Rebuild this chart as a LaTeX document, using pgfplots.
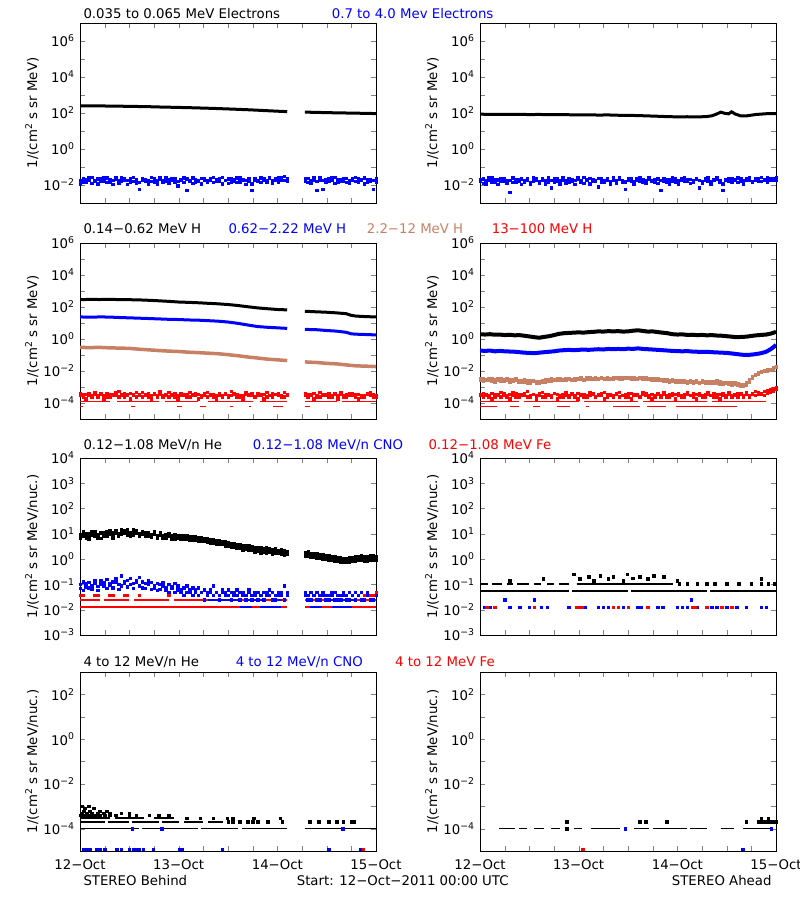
\documentclass[border=0pt]{standalone}
\usepackage{fontspec}
\setmainfont{DejaVu Sans}
\usepackage{pgfplots}
\usepackage{pgfplotstable}
\pgfplotsset{compat=1.18}
\definecolor{cblue}{RGB}{0,0,255}
\definecolor{cred}{RGB}{255,0,0}
\definecolor{cbrown}{RGB}{200,128,100}
\newcommand{\lab}{\fontsize{13.3bp}{15bp}\selectfont}
\newcommand{\SUP}[1]{\textsuperscript{#1}}

\pgfplotsset{
 every axis/.append style={
   scale only axis, width=296bp, anchor=north west,
   xmin=0, xmax=3,
   xtick={0,1,2,3},
   minor xtick={0.25,0.5,0.75,1.25,1.5,1.75,2.25,2.5,2.75},
   tick align=inside,
   major tick length=5bp, minor tick length=5bp,
   axis line style={line width=1bp},
   tick label style={font=\lab},
   yticklabel style={xshift=-2bp},
   xticklabel style={yshift=-5bp},
   ylabel style={at={(axis description cs:-0.162,0.5)}, anchor=center, font=\lab},
   unbounded coords=jump,
 },
}

% ---------- Panel 1L : 0.7-4.0 MeV electrons, Behind ----------
\pgfplotstableread{
x a b
0.00 18e-3 12e-3
0.03 24e-3 15e-3
0.06 14e-3 21e-3
0.09 20e-3 26e-3
0.12 27e-3 13e-3
0.15 16e-3 19e-3
0.18 12e-3 23e-3
0.21 22e-3 17e-3
0.24 17e-3 28e-3
0.27 25e-3 14e-3
0.30 15e-3 20e-3
0.33 19e-3 11e-3
0.36 21e-3 25e-3
0.39 13e-3 18e-3
0.42 26e-3 16e-3
0.45 18e-3 22e-3
0.48 11e-3 19e-3
0.51 23e-3 15e-3
0.54 16e-3 27e-3
0.57 20e-3 13e-3
0.60 14e-3 6e-3
0.63 24e-3 18e-3
0.66 17e-3 21e-3
0.69 19e-3 12e-3
0.72 28e-3 16e-3
0.75 15e-3 22e-3
0.78 12e-3 19e-3
0.81 21e-3 25e-3
0.84 18e-3 14e-3
0.87 25e-3 17e-3
0.90 13e-3 20e-3
0.93 19e-3 23e-3
0.96 22e-3 15e-3
0.99 16e-3 9e-3
1.02 20e-3 18e-3
1.05 14e-3 26e-3
1.08 23e-3 5e-3
1.11 17e-3 19e-3
1.14 26e-3 13e-3
1.17 15e-3 21e-3
1.20 19e-3 16e-3
1.23 12e-3 24e-3
1.26 22e-3 18e-3
1.29 18e-3 14e-3
1.32 24e-3 20e-3
1.35 14e-3 27e-3
1.38 20e-3 16e-3
1.41 16e-3 22e-3
1.44 27e-3 12e-3
1.47 19e-3 18e-3
1.50 13e-3 23e-3
1.53 22e-3 15e-3
1.56 17e-3 20e-3
1.59 25e-3 14e-3
1.62 15e-3 26e-3
1.65 21e-3 18e-3
1.68 18e-3 11e-3
1.71 23e-3 17e-3
1.74 12e-3 5e-3
1.77 20e-3 24e-3
1.80 16e-3 19e-3
1.83 26e-3 14e-3
1.86 19e-3 22e-3
1.89 14e-3 17e-3
1.92 24e-3 28e-3
1.95 17e-3 13e-3
1.98 22e-3 20e-3
2.01 15e-3 25e-3
2.04 27e-3 18e-3
2.07 19e-3 31e-3
2.10 23e-3 16e-3
2.28 17e-3 22e-3
2.31 24e-3 14e-3
2.34 13e-3 19e-3
2.37 20e-3 26e-3
2.40 16e-3 5e-3
2.43 25e-3 18e-3
2.46 18e-3 6e-3
2.49 14e-3 21e-3
2.52 22e-3 16e-3
2.55 19e-3 25e-3
2.58 27e-3 13e-3
2.61 15e-3 20e-3
2.64 21e-3 17e-3
2.67 17e-3 24e-3
2.70 24e-3 14e-3
2.73 13e-3 19e-3
2.76 20e-3 22e-3
2.79 16e-3 27e-3
2.82 23e-3 15e-3
2.85 18e-3 20e-3
2.88 26e-3 12e-3
2.91 14e-3 21e-3
2.94 21e-3 17e-3
2.97 19e-3 6e-3
3.00 15e-3 24e-3
}\tabOneL

% ---------- Panel 1R ----------
\pgfplotstableread{
x a b
0.00 16e-3 21e-3
0.03 22e-3 13e-3
0.06 12e-3 18e-3
0.09 19e-3 25e-3
0.12 25e-3 15e-3
0.15 14e-3 20e-3
0.18 20e-3 11e-3
0.21 17e-3 24e-3
0.24 23e-3 16e-3
0.27 13e-3 19e-3
0.30 18e-3 4e-3
0.33 26e-3 14e-3
0.36 15e-3 21e-3
0.39 21e-3 17e-3
0.42 11e-3 23e-3
0.45 19e-3 15e-3
0.48 24e-3 20e-3
0.51 14e-3 12e-3
0.54 17e-3 26e-3
0.57 22e-3 18e-3
0.60 16e-3 13e-3
0.63 20e-3 24e-3
0.66 12e-3 19e-3
0.69 25e-3 15e-3
0.72 18e-3 7e-3
0.75 14e-3 22e-3
0.78 23e-3 17e-3
0.81 17e-3 12e-3
0.84 20e-3 25e-3
0.87 13e-3 18e-3
0.90 24e-3 15e-3
0.93 16e-3 21e-3
0.96 19e-3 11e-3
0.99 22e-3 27e-3
1.02 15e-3 17e-3
1.05 27e-3 13e-3
1.08 18e-3 20e-3
1.11 12e-3 24e-3
1.14 21e-3 16e-3
1.17 17e-3 19e-3
1.20 24e-3 8e-3
1.23 14e-3 22e-3
1.26 19e-3 15e-3
1.29 23e-3 18e-3
1.32 16e-3 12e-3
1.35 20e-3 25e-3
1.38 13e-3 17e-3
1.41 25e-3 21e-3
1.44 18e-3 14e-3
1.47 15e-3 6e-3
1.50 22e-3 19e-3
1.53 17e-3 24e-3
1.56 11e-3 15e-3
1.59 20e-3 22e-3
1.62 26e-3 17e-3
1.65 14e-3 20e-3
1.68 19e-3 13e-3
1.71 23e-3 26e-3
1.74 16e-3 18e-3
1.77 21e-3 14e-3
1.80 13e-3 22e-3
1.83 18e-3 5e-3
1.86 24e-3 16e-3
1.89 15e-3 20e-3
1.92 20e-3 12e-3
1.95 17e-3 25e-3
1.98 22e-3 15e-3
2.01 12e-3 19e-3
2.04 19e-3 23e-3
2.07 25e-3 16e-3
2.10 16e-3 21e-3
2.13 21e-3 13e-3
2.16 14e-3 18e-3
2.19 23e-3 24e-3
2.22 18e-3 7e-3
2.25 13e-3 15e-3
2.28 20e-3 22e-3
2.31 26e-3 17e-3
2.34 15e-3 12e-3
2.37 19e-3 20e-3
2.40 22e-3 25e-3
2.43 17e-3 14e-3
2.46 12e-3 5e-3
2.49 21e-3 19e-3
2.52 16e-3 23e-3
2.55 24e-3 15e-3
2.58 18e-3 20e-3
2.61 14e-3 26e-3
2.64 23e-3 16e-3
2.67 17e-3 12e-3
2.70 20e-3 22e-3
2.73 25e-3 18e-3
2.76 15e-3 14e-3
2.79 19e-3 24e-3
2.82 22e-3 17e-3
2.85 16e-3 27e-3
2.88 21e-3 19e-3
2.91 26e-3 15e-3
2.94 18e-3 23e-3
2.97 23e-3 20e-3
3.00 20e-3 25e-3
}\tabOneR

% ---------- Panel 2L : 13-100 MeV H (red) ----------
\pgfplotstableread{
x a b
0.00 30e-5 42e-5
0.03 24e-5 36e-5
0.06 36e-5 18e-5
0.09 42e-5 30e-5
0.12 30e-5 24e-5
0.15 48e-5 36e-5
0.18 24e-5 30e-5
0.21 36e-5 42e-5
0.24 30e-5 18e-5
0.27 42e-5 24e-5
0.30 24e-5 36e-5
0.33 36e-5 30e-5
0.36 30e-5 48e-5
0.39 54e-5 24e-5
0.42 36e-5 30e-5
0.45 24e-5 42e-5
0.48 30e-5 36e-5
0.51 42e-5 18e-5
0.54 36e-5 30e-5
0.57 24e-5 48e-5
0.60 30e-5 36e-5
0.63 48e-5 24e-5
0.66 36e-5 30e-5
0.69 24e-5 42e-5
0.72 30e-5 18e-5
0.75 42e-5 36e-5
0.78 30e-5 24e-5
0.81 36e-5 54e-5
0.84 24e-5 30e-5
0.87 30e-5 36e-5
0.90 48e-5 24e-5
0.93 36e-5 30e-5
0.96 24e-5 42e-5
0.99 30e-5 18e-5
1.02 42e-5 30e-5
1.05 30e-5 36e-5
1.08 36e-5 24e-5
1.11 24e-5 48e-5
1.14 30e-5 36e-5
1.17 42e-5 30e-5
1.20 36e-5 18e-5
1.23 24e-5 30e-5
1.26 30e-5 42e-5
1.29 48e-5 24e-5
1.32 36e-5 30e-5
1.35 24e-5 36e-5
1.38 30e-5 18e-5
1.41 42e-5 30e-5
1.44 30e-5 24e-5
1.47 36e-5 42e-5
1.50 24e-5 30e-5
1.53 30e-5 54e-5
1.56 42e-5 36e-5
1.59 36e-5 24e-5
1.62 24e-5 30e-5
1.65 30e-5 18e-5
1.68 48e-5 36e-5
1.71 36e-5 30e-5
1.74 30e-5 42e-5
1.77 24e-5 24e-5
1.80 42e-5 30e-5
1.83 30e-5 36e-5
1.86 36e-5 18e-5
1.89 24e-5 48e-5
1.92 30e-5 30e-5
1.95 42e-5 24e-5
1.98 36e-5 36e-5
2.01 30e-5 42e-5
2.04 24e-5 30e-5
2.07 48e-5 24e-5
2.10 36e-5 30e-5
2.28 30e-5 42e-5
2.31 24e-5 36e-5
2.34 36e-5 30e-5
2.37 42e-5 18e-5
2.40 30e-5 24e-5
2.43 24e-5 48e-5
2.46 36e-5 30e-5
2.49 30e-5 36e-5
2.52 42e-5 24e-5
2.55 24e-5 30e-5
2.58 36e-5 42e-5
2.61 30e-5 18e-5
2.64 48e-5 36e-5
2.67 24e-5 30e-5
2.70 36e-5 24e-5
2.73 30e-5 42e-5
2.76 42e-5 30e-5
2.79 24e-5 36e-5
2.82 36e-5 18e-5
2.85 30e-5 24e-5
2.88 24e-5 30e-5
2.91 42e-5 36e-5
2.94 30e-5 48e-5
2.97 36e-5 24e-5
3.00 24e-5 30e-5
}\tabTwoL

% ---------- Panel 2R : brown (n1 n2) and red (r1 r2) ----------
\pgfplotstableread{
x n1 n2 r1 r2
0.00 29e-4 36e-4 30e-5 36e-5
0.03 33e-4 25e-4 24e-5 42e-5
0.06 26e-4 31e-4 36e-5 30e-5
0.09 35e-4 28e-4 30e-5 24e-5
0.12 24e-4 33e-4 42e-5 18e-5
0.15 30e-4 22e-4 24e-5 36e-5
0.18 27e-4 34e-4 36e-5 30e-5
0.21 32e-4 25e-4 48e-5 24e-5
0.24 23e-4 29e-4 30e-5 42e-5
0.27 28e-4 35e-4 24e-5 30e-5
0.30 31e-4 22e-4 36e-5 18e-5
0.33 25e-4 28e-4 30e-5 48e-5
0.36 29e-4 33e-4 42e-5 24e-5
0.39 22e-4 26e-4 24e-5 36e-5
0.42 27e-4 20e-4 36e-5 30e-5
0.45 21e-4 28e-4 30e-5 42e-5
0.48 25e-4 18e-4 54e-5 24e-5
0.51 19e-4 24e-4 24e-5 30e-5
0.54 23e-4 27e-4 36e-5 36e-5
0.57 18e-4 22e-4 30e-5 18e-5
0.60 22e-4 17e-4 42e-5 30e-5
0.63 26e-4 20e-4 24e-5 48e-5
0.66 21e-4 28e-4 36e-5 24e-5
0.69 29e-4 24e-4 30e-5 36e-5
0.72 25e-4 32e-4 24e-5 30e-5
0.75 31e-4 27e-4 42e-5 42e-5
0.78 28e-4 35e-4 36e-5 18e-5
0.81 34e-4 29e-4 30e-5 24e-5
0.84 30e-4 26e-4 24e-5 36e-5
0.87 27e-4 33e-4 48e-5 30e-5
0.90 35e-4 30e-4 30e-5 24e-5
0.93 31e-4 28e-4 36e-5 42e-5
0.96 29e-4 36e-4 24e-5 30e-5
0.99 36e-4 31e-4 42e-5 18e-5
1.02 33e-4 38e-4 30e-5 36e-5
1.05 30e-4 27e-4 36e-5 24e-5
1.08 38e-4 33e-4 24e-5 30e-5
1.11 34e-4 40e-4 30e-5 48e-5
1.14 31e-4 36e-4 42e-5 36e-5
1.17 39e-4 33e-4 24e-5 24e-5
1.20 35e-4 30e-4 36e-5 30e-5
1.23 37e-4 42e-4 30e-5 42e-5
1.26 33e-4 36e-4 48e-5 18e-5
1.29 40e-4 34e-4 24e-5 36e-5
1.32 36e-4 31e-4 36e-5 30e-5
1.35 33e-4 39e-4 30e-5 24e-5
1.38 41e-4 36e-4 42e-5 36e-5
1.41 37e-4 33e-4 24e-5 48e-5
1.44 34e-4 40e-4 30e-5 30e-5
1.47 39e-4 35e-4 36e-5 24e-5
1.50 36e-4 42e-4 24e-5 42e-5
1.53 32e-4 37e-4 42e-5 18e-5
1.56 38e-4 34e-4 30e-5 36e-5
1.59 35e-4 31e-4 36e-5 30e-5
1.62 40e-4 36e-4 24e-5 24e-5
1.65 33e-4 38e-4 48e-5 36e-5
1.68 37e-4 31e-4 30e-5 42e-5
1.71 30e-4 35e-4 24e-5 30e-5
1.74 34e-4 28e-4 36e-5 18e-5
1.77 29e-4 33e-4 30e-5 24e-5
1.80 32e-4 26e-4 42e-5 36e-5
1.83 27e-4 31e-4 24e-5 30e-5
1.86 25e-4 29e-4 36e-5 48e-5
1.89 30e-4 24e-4 30e-5 24e-5
1.92 26e-4 22e-4 24e-5 36e-5
1.95 23e-4 28e-4 42e-5 30e-5
1.98 27e-4 21e-4 36e-5 18e-5
2.01 22e-4 25e-4 30e-5 42e-5
2.04 25e-4 20e-4 24e-5 30e-5
2.07 20e-4 24e-4 36e-5 24e-5
2.10 23e-4 19e-4 48e-5 36e-5
2.13 21e-4 26e-4 30e-5 30e-5
2.16 18e-4 22e-4 24e-5 42e-5
2.19 24e-4 20e-4 36e-5 18e-5
2.22 20e-4 17e-4 42e-5 30e-5
2.25 22e-4 25e-4 30e-5 24e-5
2.28 19e-4 21e-4 24e-5 36e-5
2.31 23e-4 18e-4 36e-5 48e-5
2.34 17e-4 22e-4 30e-5 30e-5
2.37 21e-4 19e-4 42e-5 24e-5
2.40 18e-4 24e-4 24e-5 36e-5
2.43 22e-4 16e-4 36e-5 18e-5
2.46 16e-4 20e-4 30e-5 42e-5
2.49 20e-4 17e-4 24e-5 30e-5
2.52 15e-4 19e-4 48e-5 36e-5
2.55 19e-4 14e-4 30e-5 24e-5
2.58 16e-4 18e-4 36e-5 30e-5
2.61 13e-4 17e-4 24e-5 42e-5
2.64 15e-4 12e-4 42e-5 36e-5
2.67 12e-4 14e-4 30e-5 24e-5
2.70 18e-4 13e-4 36e-5 48e-5
2.73 28e-4 22e-4 24e-5 30e-5
2.76 45e-4 36e-4 42e-5 36e-5
2.79 62e-4 55e-4 30e-5 54e-5
2.82 80e-4 70e-4 48e-5 36e-5
2.85 95e-4 88e-4 36e-5 42e-5
2.88 110e-4 98e-4 54e-5 30e-5
2.91 105e-4 125e-4 42e-5 60e-5
2.94 130e-4 115e-4 66e-5 48e-5
2.97 160e-4 140e-4 54e-5 78e-5
3.00 190e-4 170e-4 72e-5 90e-5
}\tabTwoR

% ---------- Panel 3L : He (k1 k2 k3) and CNO (c1 c2) ----------
\pgfplotstableread{
x k1 k2 k3 c1 c2
0.00 9.5 6.8 8.6 0.10 0.07
0.03 12.2 8.6 9.4 0.13 0.06
0.06 7.1 10.4 8.8 0.08 0.11
0.09 10.3 6.5 9.1 0.12 0.075
0.12 8.8 13.1 10.2 0.065 0.09
0.15 12.9 8.0 9.6 0.11 0.14
0.18 9.4 6.9 8.9 0.085 0.06
0.21 6.9 11.8 10.5 0.14 0.10
0.24 11.9 8.4 9.8 0.09 0.12
0.27 8.2 12.6 10.8 0.16 0.07
0.30 13.4 9.7 10.1 0.11 0.095
0.33 9.2 7.0 11.0 0.075 0.13
0.36 11.0 14.2 12.0 0.12 0.17
0.39 7.9 10.1 10.4 0.10 0.065
0.42 14.5 9.6 11.6 0.22 0.09
0.45 10.6 13.8 12.3 0.13 0.11
0.48 15.2 9.0 11.4 0.08 0.15
0.51 11.8 8.4 10.6 0.18 0.10
0.54 8.9 14.6 11.8 0.11 0.07
0.57 13.7 10.5 11.1 0.15 0.12
0.60 10.2 7.9 10.0 0.09 0.19
0.63 12.6 9.8 10.7 0.13 0.075
0.66 8.0 11.9 9.6 0.07 0.11
0.69 11.7 8.1 10.2 0.10 0.14
0.72 9.3 7.2 8.9 0.12 0.065
0.75 12.1 9.9 9.7 0.075 0.09
0.78 7.6 7.0 8.6 0.11 0.06
0.81 9.8 11.3 9.3 0.065 0.10
0.84 7.0 8.9 8.2 0.09 0.12
0.87 9.9 6.6 8.7 0.06 0.075
0.90 8.3 10.4 8.0 0.10 0.05
0.93 6.5 8.5 7.7 0.075 0.085
0.96 9.9 6.2 8.1 0.05 0.11
0.99 7.0 8.8 7.4 0.09 0.0625
1.02 6.3 8.4 7.6 0.0625 0.05
1.05 8.8 6.0 7.2 0.075 0.0375
1.08 6.5 8.5 7.3 0.05 0.0875
1.11 5.9 7.8 6.8 0.0625 0.05
1.14 8.0 5.6 6.7 0.0375 0.075
1.17 5.7 7.6 6.5 0.05 0.0625
1.20 5.3 7.1 6.2 0.075 0.0375
1.23 7.4 5.0 6.0 0.05 0.05
1.26 5.0 6.8 5.9 0.0625 0.025
1.29 6.7 4.6 5.5 0.0375 0.05
1.32 4.5 6.3 5.3 0.05 0.0625
1.35 6.0 4.2 5.0 0.0875 0.0375
1.38 4.0 5.7 4.8 0.05 0.05
1.41 5.5 3.9 4.6 0.0375 0.025
1.44 3.8 5.2 4.4 0.0625 0.05
1.47 5.0 3.4 4.1 0.05 0.0375
1.50 3.3 4.6 3.9 0.0375 0.0625
1.53 4.3 3.0 3.6 0.05 0.025
1.56 2.9 4.1 3.4 0.0375 0.05
1.59 4.0 2.7 3.3 0.0625 0.0375
1.62 2.7 3.7 3.1 0.05 0.025
1.65 3.6 2.4 2.9 0.0375 0.05
1.68 2.5 3.4 2.9 0.025 0.0375
1.71 3.4 2.2 2.7 0.05 0.0625
1.74 2.3 3.2 2.7 0.0375 0.025
1.77 3.0 2.0 2.5 0.05 0.0375
1.80 2.1 2.9 2.45 0.025 0.05
1.83 2.8 1.8 2.3 0.0375 0.0375
1.86 1.9 2.7 2.25 0.05 0.025
1.89 2.9 1.75 2.2 0.0375 0.05
1.92 2.0 2.6 2.25 0.0625 0.0375
1.95 1.65 2.5 2.0 0.025 0.05
1.98 2.6 1.75 2.1 0.0375 0.025
2.01 1.8 2.3 2.0 0.05 0.0375
2.04 1.55 2.4 1.95 0.0375 0.05
2.07 2.3 1.5 1.85 0.025 0.0875
2.10 1.65 2.0 1.8 0.05 0.0375
2.28 1.9 1.3 1.6 0.0375 0.05
2.31 1.3 1.95 1.55 0.025 0.0375
2.34 1.75 1.2 1.45 0.05 0.025
2.37 1.2 1.65 1.4 0.0375 0.0375
2.40 1.65 1.1 1.35 0.025 0.05
2.43 1.1 1.5 1.3 0.0375 0.025
2.46 1.5 1.0 1.25 0.05 0.0375
2.49 1.0 1.4 1.2 0.0375 0.025
2.52 1.4 0.92 1.12 0.025 0.0375
2.55 0.92 1.3 1.08 0.0375 0.05
2.58 1.3 0.87 1.05 0.05 0.025
2.61 0.86 1.2 1.0 0.025 0.0375
2.64 1.15 0.78 0.97 0.0375 0.025
2.67 0.8 1.1 0.93 0.05 0.0375
2.70 1.07 0.74 0.9 0.0375 0.025
2.73 0.77 1.15 0.92 0.025 0.05
2.76 1.2 0.82 0.98 0.0375 0.0375
2.79 0.85 1.25 1.02 0.05 0.025
2.82 1.3 0.89 1.06 0.0375 0.0375
2.85 0.92 1.35 1.1 0.025 0.05
2.88 1.25 0.87 1.05 0.0375 0.025
2.91 0.88 1.3 1.08 0.05 0.0375
2.94 1.35 0.96 1.12 0.0375 0.025
2.97 0.96 1.4 1.15 0.025 0.0375
3.00 1.3 0.9 1.1 0.05 0.0375
}\tabThreeL

\begin{document}
\begin{tikzpicture}
\path[use as bounding box] (0,0) rectangle (800bp,-900bp);

% ================= ROW 1 =================
\begin{axis}[at={(80bp,-23bp)}, height=180bp, ymode=log, ymin=1e-3, ymax=1e7,
  yminorticks=false, xticklabels={},
  ytick={1e-3,1e-2,0.1,1,10,100,1e3,1e4,1e5,1e6,1e7},
  yticklabels={,10\SUP{−2},,10\SUP{0},,10\SUP{2},,10\SUP{4},,10\SUP{6},},
  ylabel={1/(cm\SUP{2} s sr MeV)}]
\addplot[black, line width=3bp, no marks] coordinates {(0,250)(0.1,246)(0.2,250)(0.3,241)(0.4,238)(0.5,236)(0.6,229)(0.7,224)(0.8,216)(0.9,210)(1.0,204)(1.1,198)(1.2,191)(1.3,184)(1.4,176)(1.5,168)(1.6,160)(1.7,152)(1.8,143)(1.9,134)(2.0,126)(2.1,119)(2.1,nan)(2.28,112)(2.4,108)(2.5,105)(2.6,102)(2.7,100)(2.8,98)(2.9,95)(3.0,93)};
\addplot[cblue, only marks, mark=square*, mark size=1.25bp] table[x=x, y=a] {\tabOneL};
\addplot[cblue, only marks, mark=square*, mark size=1.25bp] table[x=x, y=b] {\tabOneL};
\end{axis}

\begin{axis}[at={(480bp,-23bp)}, height=180bp, ymode=log, ymin=1e-3, ymax=1e7,
  yminorticks=false, xticklabels={},
  ytick={1e-3,1e-2,0.1,1,10,100,1e3,1e4,1e5,1e6,1e7},
  yticklabels={,10\SUP{−2},,10\SUP{0},,10\SUP{2},,10\SUP{4},,10\SUP{6},},
  ylabel={1/(cm\SUP{2} s sr MeV)}]
\addplot[black, line width=3bp, no marks] coordinates {(0,86)(0.1,84)(0.2,85)(0.3,83)(0.4,84)(0.5,82)(0.6,83)(0.7,81)(0.8,82)(0.9,80)(1.0,79)(1.1,79)(1.2,77)(1.3,78)(1.4,75)(1.5,74)(1.6,72)(1.7,69)(1.8,66)(1.9,63)(2.0,61)(2.1,62)(2.2,60)(2.3,64)(2.35,70)(2.4,88)(2.44,112)(2.48,96)(2.52,90)(2.55,116)(2.59,86)(2.64,70)(2.7,69)(2.75,76)(2.8,83)(2.85,87)(2.9,91)(2.95,94)(3.0,92)};
\addplot[cblue, only marks, mark=square*, mark size=1.25bp] table[x=x, y=a] {\tabOneR};
\addplot[cblue, only marks, mark=square*, mark size=1.25bp] table[x=x, y=b] {\tabOneR};
\end{axis}

% ================= ROW 2 =================
\begin{axis}[at={(80bp,-243bp)}, height=176bp, ymode=log, ymin=1e-5, ymax=1e6,
  yminorticks=false, xticklabels={},
  ytick={1e-5,1e-4,1e-3,1e-2,0.1,1,10,100,1e3,1e4,1e5,1e6},
  yticklabels={,10\SUP{−4},,10\SUP{−2},,10\SUP{0},,10\SUP{2},,10\SUP{4},,10\SUP{6}},
  ylabel={1/(cm\SUP{2} s sr MeV)}]
\addplot[black, line width=3bp, no marks] coordinates {(0,290)(0.1,298)(0.2,294)(0.3,302)(0.4,290)(0.5,286)(0.6,278)(0.7,262)(0.8,244)(0.9,225)(1.0,205)(1.1,195)(1.2,184)(1.3,170)(1.4,158)(1.5,143)(1.6,124)(1.7,104)(1.8,88)(1.9,78)(2.0,70)(2.1,66)(2.1,nan)(2.28,54)(2.4,50)(2.5,47)(2.6,43)(2.7,38)(2.75,30)(2.8,27)(2.9,25)(3.0,24)};
\addplot[cblue, line width=3bp, no marks] coordinates {(0,24)(0.1,23)(0.2,24)(0.3,23.5)(0.4,22)(0.5,21)(0.6,20)(0.7,19)(0.8,18)(0.9,17)(1.0,16.5)(1.1,15.5)(1.2,15)(1.3,14)(1.4,13)(1.5,11.5)(1.6,9.5)(1.7,7.5)(1.8,6)(1.9,5.4)(2.0,5.0)(2.1,4.6)(2.1,nan)(2.28,4.0)(2.4,3.8)(2.5,3.4)(2.6,3.1)(2.7,2.6)(2.75,2.1)(2.8,2.0)(2.9,1.9)(3.0,1.8)};
\addplot[cbrown, line width=3.5bp, no marks] coordinates {(0,0.30)(0.1,0.29)(0.2,0.30)(0.3,0.28)(0.4,0.27)(0.5,0.26)(0.6,0.23)(0.7,0.21)(0.8,0.19)(0.9,0.175)(1.0,0.165)(1.1,0.15)(1.2,0.14)(1.3,0.13)(1.4,0.12)(1.5,0.105)(1.6,0.09)(1.7,0.075)(1.8,0.065)(1.9,0.055)(2.0,0.05)(2.1,0.045)(2.1,nan)(2.28,0.037)(2.4,0.034)(2.5,0.030)(2.6,0.028)(2.7,0.024)(2.8,0.021)(2.9,0.020)(3.0,0.019)};
\addplot[cred, line width=1.5bp, no marks] coordinates {(0,12e-5)(0.30,12e-5)(0.30,nan)(0.38,12e-5)(0.80,12e-5)(0.80,nan)(0.86,12e-5)(1.20,12e-5)(1.20,nan)(1.30,12e-5)(1.75,12e-5)(1.75,nan)(1.82,12e-5)(2.10,12e-5)(2.10,nan)(2.28,12e-5)(2.60,12e-5)(2.60,nan)(2.66,12e-5)(3.0,12e-5)};
\addplot[cred, line width=1.5bp, no marks] coordinates {(0.0,6e-5)(0.03,6e-5)(0.03,nan)(0.52,6e-5)(0.56,6e-5)(0.56,nan)(0.98,6e-5)(1.03,6e-5)(1.03,nan)(1.22,6e-5)(1.28,6e-5)(1.28,nan)(1.52,6e-5)(1.55,6e-5)(1.55,nan)(1.71,6e-5)(1.73,6e-5)(1.73,nan)(1.96,6e-5)(2.06,6e-5)(2.06,nan)(2.28,6e-5)(2.33,6e-5)};
\addplot[cred, only marks, mark=square*, mark size=1.25bp] table[x=x, y=a] {\tabTwoL};
\addplot[cred, only marks, mark=square*, mark size=1.25bp] table[x=x, y=b] {\tabTwoL};
\end{axis}

\begin{axis}[at={(480bp,-243bp)}, height=176bp, ymode=log, ymin=1e-5, ymax=1e6,
  yminorticks=false, xticklabels={},
  ytick={1e-5,1e-4,1e-3,1e-2,0.1,1,10,100,1e3,1e4,1e5,1e6},
  yticklabels={,10\SUP{−4},,10\SUP{−2},,10\SUP{0},,10\SUP{2},,10\SUP{4},,10\SUP{6}},
  ylabel={1/(cm\SUP{2} s sr MeV)}]
\addplot[black, line width=4bp, no marks] coordinates {(0,2.0)(0.05,1.9)(0.1,2.0)(0.15,1.85)(0.2,1.9)(0.25,1.75)(0.3,1.85)(0.35,1.7)(0.4,1.75)(0.45,1.6)(0.5,1.45)(0.55,1.3)(0.6,1.2)(0.65,1.35)(0.7,1.5)(0.75,1.75)(0.8,2.1)(0.85,2.3)(0.9,2.4)(0.95,2.5)(1.0,2.6)(1.05,2.5)(1.1,2.7)(1.15,2.8)(1.2,3.0)(1.25,2.9)(1.3,3.1)(1.35,3.0)(1.4,3.1)(1.45,2.9)(1.5,3.0)(1.55,3.3)(1.6,3.5)(1.65,3.2)(1.7,2.9)(1.75,3.0)(1.8,2.7)(1.85,2.5)(1.9,2.3)(1.95,2.0)(2.0,1.9)(2.05,1.95)(2.1,1.8)(2.15,1.85)(2.2,1.75)(2.25,1.8)(2.3,1.7)(2.35,1.75)(2.4,1.65)(2.45,1.6)(2.5,1.5)(2.55,1.4)(2.6,1.3)(2.65,1.35)(2.7,1.4)(2.75,1.55)(2.8,1.7)(2.85,1.8)(2.9,1.9)(2.95,2.2)(3.0,2.8)};
\addplot[cblue, line width=4bp, no marks] coordinates {(0,0.19)(0.05,0.18)(0.1,0.19)(0.15,0.17)(0.2,0.18)(0.25,0.17)(0.3,0.165)(0.35,0.16)(0.4,0.15)(0.45,0.14)(0.5,0.135)(0.55,0.13)(0.6,0.14)(0.65,0.15)(0.7,0.16)(0.75,0.17)(0.8,0.19)(0.85,0.2)(0.9,0.21)(0.95,0.2)(1.0,0.21)(1.05,0.22)(1.1,0.21)(1.15,0.22)(1.2,0.23)(1.25,0.22)(1.3,0.24)(1.35,0.23)(1.4,0.24)(1.45,0.23)(1.5,0.25)(1.55,0.24)(1.6,0.26)(1.65,0.24)(1.7,0.23)(1.75,0.22)(1.8,0.21)(1.85,0.2)(1.9,0.19)(1.95,0.18)(2.0,0.175)(2.05,0.17)(2.1,0.175)(2.15,0.165)(2.2,0.16)(2.25,0.155)(2.3,0.16)(2.35,0.15)(2.4,0.145)(2.45,0.14)(2.5,0.135)(2.55,0.125)(2.6,0.115)(2.65,0.105)(2.7,0.1)(2.75,0.105)(2.8,0.115)(2.85,0.13)(2.9,0.16)(2.95,0.24)(3.0,0.42)};
\addplot[cbrown, only marks, mark=square*, mark size=1.25bp] table[x=x, y=n1] {\tabTwoR};
\addplot[cbrown, only marks, mark=square*, mark size=1.25bp] table[x=x, y=n2] {\tabTwoR};
\addplot[cred, line width=1.5bp, no marks] coordinates {(0,12e-5)(0.40,12e-5)(0.40,nan)(0.45,12e-5)(1.0,12e-5)(1.0,nan)(1.05,12e-5)(1.6,12e-5)(1.6,nan)(1.65,12e-5)(2.3,12e-5)(2.3,nan)(2.35,12e-5)(2.9,12e-5)};
\addplot[cred, line width=1.5bp, no marks] coordinates {(0,6e-5)(0.17,6e-5)(0.17,nan)(0.30,6e-5)(0.40,6e-5)(0.40,nan)(0.54,6e-5)(0.61,6e-5)(0.61,nan)(0.78,6e-5)(0.91,6e-5)(0.91,nan)(1.07,6e-5)(1.10,6e-5)(1.10,nan)(1.35,6e-5)(1.62,6e-5)(1.62,nan)(1.69,6e-5)(1.89,6e-5)(1.89,nan)(1.99,6e-5)(2.60,6e-5)};
\addplot[cred, only marks, mark=square*, mark size=1.25bp] table[x=x, y=r1] {\tabTwoR};
\addplot[cred, only marks, mark=square*, mark size=1.25bp] table[x=x, y=r2] {\tabTwoR};
\end{axis}

% ================= ROW 3 =================
\begin{axis}[at={(80bp,-458bp)}, height=177bp, ymode=log, ymin=1e-3, ymax=1e4,
  yminorticks=false, xticklabels={},
  ytick={1e-3,1e-2,0.1,1,10,100,1e3,1e4},
  yticklabels={10\SUP{−3},10\SUP{−2},10\SUP{−1},10\SUP{0},10\SUP{1},10\SUP{2},10\SUP{3},10\SUP{4}},
  ylabel={1/(cm\SUP{2} s sr MeV/nuc.)}]
\addplot[black, only marks, mark=square*, mark size=1.2bp] table[x=x, y=k1] {\tabThreeL};
\addplot[black, only marks, mark=square*, mark size=1.2bp] table[x=x, y=k2] {\tabThreeL};
\addplot[black, only marks, mark=square*, mark size=1.2bp] table[x=x, y=k3] {\tabThreeL};
\addplot[cblue, only marks, mark=square*, mark size=1.25bp] table[x=x, y=c1] {\tabThreeL};
\addplot[cblue, only marks, mark=square*, mark size=1.25bp] table[x=x, y=c2] {\tabThreeL};
\addplot[cblue, line width=2bp, no marks] coordinates {(1.58,0.0125)(2.10,0.0125)(2.10,nan)(2.30,0.0125)(2.45,0.0125)(2.45,nan)(2.55,0.0125)(2.76,0.0125)};
\addplot[cblue, line width=2bp, no marks] coordinates {(1.30,0.025)(1.62,0.025)(1.62,nan)(1.68,0.025)(1.85,0.025)(1.85,nan)(1.95,0.025)(2.05,0.025)(2.05,nan)(2.50,0.025)(2.78,0.025)};
\addplot[cred, line width=2bp, no marks] coordinates {(0,0.0125)(1.62,0.0125)(1.62,nan)(1.74,0.0125)(1.82,0.0125)(1.82,nan)(2.04,0.0125)(2.10,0.0125)(2.10,nan)(2.28,0.0125)(2.33,0.0125)(2.33,nan)(2.45,0.0125)(2.55,0.0125)(2.55,nan)(2.76,0.0125)(3,0.0125)};
\addplot[cred, line width=2bp, no marks] coordinates {(0,0.025)(0.2,0.025)(0.2,nan)(0.24,0.025)(0.5,0.025)(0.5,nan)(0.55,0.025)(0.9,0.025)(0.9,nan)(0.95,0.025)(1.3,0.025)(1.3,nan)(1.62,0.025)(1.68,0.025)(1.68,nan)(1.85,0.025)(1.95,0.025)(1.95,nan)(2.05,0.025)(2.1,0.025)(2.1,nan)(2.28,0.025)(2.5,0.025)(2.5,nan)(2.78,0.025)(3,0.025)};
\addplot[cred, only marks, mark=square*, mark size=1.25bp] coordinates {(0,0.0375)(0.03,0.0375)(0.15,0.0375)(0.18,0.0375)(0.3,0.0375)(0.33,0.0375)(0.45,0.0375)(0.48,0.0375)(0.6,0.0375)(0.9,0.0375)(2.88,0.0375)(2.94,0.0375)(2.97,0.0375)(3.0,0.05)};
\end{axis}

\begin{axis}[at={(480bp,-458bp)}, height=177bp, ymode=log, ymin=1e-3, ymax=1e4,
  yminorticks=false, xticklabels={},
  ytick={1e-3,1e-2,0.1,1,10,100,1e3,1e4},
  yticklabels={10\SUP{−3},10\SUP{−2},10\SUP{−1},10\SUP{0},10\SUP{1},10\SUP{2},10\SUP{3},10\SUP{4}},
  ylabel={1/(cm\SUP{2} s sr MeV/nuc.)}]
\addplot[black, line width=2bp, no marks] coordinates {(0,0.055)(0.9,0.055)(0.9,nan)(0.93,0.055)(1.5,0.055)(1.5,nan)(1.53,0.055)(2.3,0.055)(2.3,nan)(2.33,0.055)(3.0,0.055)};
\addplot[black, line width=2bp, no marks] coordinates {(0,0.107)(0.08,0.107)(0.08,nan)(0.12,0.107)(0.22,0.107)(0.22,nan)(0.27,0.107)(0.33,0.107)(0.33,nan)(0.38,0.107)(0.5,0.107)(0.5,nan)(0.55,0.107)(0.62,0.107)(0.62,nan)(0.68,0.107)(0.75,0.107)(0.75,nan)(0.8,0.107)(0.9,0.107)(0.9,nan)(0.98,0.107)(1.96,0.107)};
\addplot[black, only marks, mark=square*, mark size=1.25bp] coordinates {(2.02,0.107)(2.1,0.107)(2.2,0.107)(2.3,0.107)(2.38,0.107)(2.5,0.107)(2.62,0.107)(2.75,0.107)(2.85,0.107)(2.92,0.107)(2.98,0.107)(0.3,0.14)(0.64,0.17)(0.95,0.25)(1.01,0.17)(1.1,0.2)(1.15,0.14)(1.22,0.22)(1.3,0.17)(1.35,0.2)(1.45,0.14)(1.49,0.25)(1.55,0.18)(1.62,0.2)(1.7,0.17)(1.76,0.22)(1.86,0.2)(2.0,0.14)(2.85,0.17)};
\addplot[cblue, only marks, mark=square*, mark size=1.25bp] coordinates {(0.05,0.0125)(0.1,0.0125)(0.3,0.0125)(0.4,0.0125)(0.5,0.0125)(0.62,0.0125)(0.68,0.0125)(0.9,0.0125)(1.0,0.0125)(1.06,0.0125)(1.2,0.0125)(1.25,0.0125)(1.3,0.0125)(1.45,0.0125)(1.6,0.0125)(1.63,0.0125)(1.8,0.0125)(1.85,0.0125)(2.0,0.0125)(2.05,0.0125)(2.1,0.0125)(2.2,0.0125)(2.35,0.0125)(2.4,0.0125)(2.5,0.0125)(2.6,0.0125)(2.7,0.0125)(2.85,0.0125)(2.9,0.0125)(0.25,0.025)(0.55,0.025)(2.14,0.025)};
\addplot[cred, only marks, mark=square*, mark size=1.25bp] coordinates {(0.07,0.0125)(0.15,0.0125)(0.55,0.0125)(0.98,0.0125)(1.03,0.0125)(1.35,0.0125)(1.4,0.0125)(1.5,0.0125)(1.7,0.0125)(2.15,0.0125)(2.18,0.0125)(2.3,0.0125)(2.45,0.0125)(2.55,0.0125)};
\end{axis}

% ================= ROW 4 =================
\begin{axis}[at={(80bp,-672bp)}, height=179bp, ymode=log, ymin=1e-5, ymax=1e3,
  yminorticks=false,
  ytick={1e-5,1e-4,1e-3,1e-2,0.1,1,10,100,1e3},
  yticklabels={,10\SUP{−4},,10\SUP{−2},,10\SUP{0},,10\SUP{2},},
  xticklabels={12−Oct,13−Oct,14−Oct,15−Oct},
  ylabel={1/(cm\SUP{2} s sr MeV/nuc.)}]
\addplot[black, line width=1.2bp, no marks] coordinates {(0,1e-4)(0.6,1e-4)(0.6,nan)(0.63,1e-4)(1.2,1e-4)(1.2,nan)(1.23,1e-4)(1.6,1e-4)(1.6,nan)(1.64,1e-4)(2.1,1e-4)(2.1,nan)(2.28,1e-4)(3,1e-4)};
\addplot[black, line width=2bp, no marks] coordinates {(0,2e-4)(0.25,2e-4)(0.25,nan)(0.28,2e-4)(0.5,2e-4)(0.5,nan)(0.53,2e-4)(0.8,2e-4)(0.8,nan)(0.83,2e-4)(1.0,2e-4)(1.0,nan)(1.05,2e-4)(1.25,2e-4)(1.25,nan)(1.3,2e-4)(1.45,2e-4)};
\addplot[black, line width=2bp, no marks] coordinates {(0,3e-4)(0.3,3e-4)(0.3,nan)(0.35,3e-4)(0.65,3e-4)(0.65,nan)(0.75,3e-4)(0.95,3e-4)};
\addplot[black, only marks, mark=square*, mark size=1.25bp] coordinates {(1.5,2e-4)(1.55,2e-4)(1.62,2e-4)(1.7,2e-4)(1.75,2e-4)(1.8,2e-4)(1.9,2e-4)(2.05,2e-4)(2.33,2e-4)(2.42,2e-4)(2.52,2e-4)(2.6,2e-4)(2.67,2e-4)(2.75,2e-4)(2.78,2e-4)(1.08,3e-4)(1.22,3e-4)(1.35,3e-4)(1.49,3e-4)(1.55,3e-4)(1.76,3e-4)(2.03,3e-4)(0.0,4e-4)(0.03,4e-4)(0.06,4e-4)(0.1,4e-4)(0.13,4e-4)(0.16,4e-4)(0.2,4e-4)(0.25,4e-4)(0.3,4e-4)(0.36,4e-4)(0.5,4e-4)(0.57,4e-4)(0.7,4e-4)(0.8,4e-4)(0.9,4e-4)(0.02,5e-4)(0.07,5e-4)(0.12,5e-4)(0.18,5e-4)(0.24,5e-4)(0.3,5e-4)(0.42,5e-4)(0.5,5e-4)(0.04,6e-4)(0.1,6e-4)(0.2,6e-4)(0.27,6e-4)(0.05,8e-4)(0.14,8e-4)(0.02,1e-3)(0.09,1e-3)};
\addplot[cblue, only marks, mark=square*, mark size=1.25bp] coordinates {(0.03,1.2e-5)(0.05,1.2e-5)(0.07,1.2e-5)(0.1,1.2e-5)(0.17,1.2e-5)(0.2,1.2e-5)(0.25,1.2e-5)(0.37,1.2e-5)(0.42,1.2e-5)(0.5,1.2e-5)(0.54,1.2e-5)(0.57,1.2e-5)(0.6,1.2e-5)(0.64,1.2e-5)(0.74,1.2e-5)(1.01,1.2e-5)(1.03,1.2e-5)(1.44,1.2e-5)(2.52,1.2e-5)(2.84,1.2e-5)(0.53,1e-4)(0.83,1e-4)(2.66,1e-4)};
\addplot[cred, only marks, mark=square*, mark size=1.25bp] coordinates {(2.87,1.2e-5)};
\end{axis}

\begin{axis}[at={(480bp,-672bp)}, height=179bp, ymode=log, ymin=1e-5, ymax=1e3,
  yminorticks=false,
  ytick={1e-5,1e-4,1e-3,1e-2,0.1,1,10,100,1e3},
  yticklabels={,10\SUP{−4},,10\SUP{−2},,10\SUP{0},,10\SUP{2},},
  xticklabels={12−Oct,13−Oct,14−Oct,15−Oct},
  ylabel={1/(cm\SUP{2} s sr MeV/nuc.)}]
\addplot[black, line width=1.2bp, no marks] coordinates {(0.19,1e-4)(0.35,1e-4)(0.35,nan)(0.40,1e-4)(0.48,1e-4)(0.48,nan)(0.55,1e-4)(0.65,1e-4)(0.65,nan)(0.72,1e-4)(0.81,1e-4)(0.81,nan)(0.95,1e-4)(1.03,1e-4)(1.03,nan)(1.12,1e-4)(1.42,1e-4)(1.42,nan)(1.56,1e-4)(1.71,1e-4)(1.71,nan)(1.75,1e-4)(2.10,1e-4)(2.10,nan)(2.13,1e-4)(2.30,1e-4)(2.30,nan)(2.44,1e-4)(2.57,1e-4)(2.57,nan)(2.67,1e-4)(2.94,1e-4)};
\addplot[black, only marks, mark=square*, mark size=1.25bp] coordinates {(0.88,2e-4)(1.62,2e-4)(1.68,2e-4)(1.89,2e-4)(2.70,2e-4)(2.82,2e-4)(2.84,2e-4)(2.86,2e-4)(2.88,2e-4)(2.90,2e-4)(2.92,2e-4)(2.94,2e-4)(2.96,2e-4)(2.98,2e-4)(3.0,2e-4)(2.85,3e-4)(2.92,3e-4)(0.88,1e-4)};
\addplot[cblue, only marks, mark=square*, mark size=1.25bp] coordinates {(1.47,1e-4)(2.95,1e-4)(2.66,1.2e-5)};
\addplot[cred, only marks, mark=square*, mark size=1.25bp] coordinates {(1.04,1.2e-5)};
\end{axis}

% ================= TEXT =================
\node[anchor=base west, font=\lab, text=black] at (80bp,-18.3bp) {0.035 to 0.065 MeV Electrons};
\node[anchor=base west, font=\lab, text=cblue] at (328.3bp,-18.3bp) {0.7 to 4.0 Mev Electrons};

\node[anchor=base west, font=\lab, text=black] at (80bp,-233.3bp) {0.14−0.62 MeV H};
\node[anchor=base west, font=\lab, text=cblue] at (225bp,-233.3bp) {0.62−2.22 MeV H};
\node[anchor=base west, font=\lab, text=cbrown] at (363.3bp,-233.3bp) {2.2−12 MeV H};
\node[anchor=base west, font=\lab, text=cred] at (488.3bp,-233.3bp) {13−100 MeV H};

\node[anchor=base west, font=\lab, text=black] at (80bp,-449.3bp) {0.12−1.08 MeV/n He};
\node[anchor=base west, font=\lab, text=cblue] at (249.3bp,-449.3bp) {0.12−1.08 MeV/n CNO};
\node[anchor=base west, font=\lab, text=cred] at (425bp,-449.3bp) {0.12−1.08 MeV Fe};

\node[anchor=base west, font=\lab, text=black] at (80bp,-666bp) {4 to 12 MeV/n He};
\node[anchor=base west, font=\lab, text=cblue] at (232.3bp,-666bp) {4 to 12 MeV/n CNO};
\node[anchor=base west, font=\lab, text=cred] at (391.7bp,-666bp) {4 to 12 MeV Fe};

\node[anchor=base west, font=\lab] at (80bp,-885bp) {STEREO Behind};
\node[anchor=base west, font=\lab] at (293.3bp,-885bp) {Start: 12−Oct−2011 00:00 UTC};
\node[anchor=base east, font=\lab] at (775bp,-885bp) {STEREO Ahead};
\end{tikzpicture}
\end{document}
